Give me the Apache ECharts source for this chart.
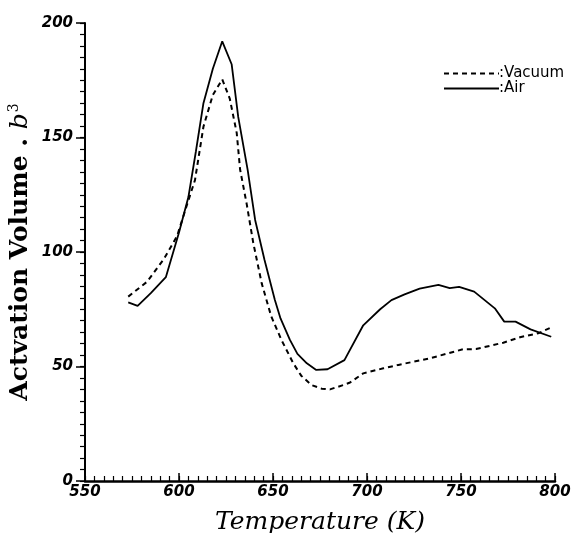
<!DOCTYPE html>
<html>
<head>
<meta charset="utf-8">
<script src="https://cdn.jsdelivr.net/npm/echarts@6/dist/echarts.min.js"></script>
<style>html,body{margin:0;padding:0;background:#fff}#c{width:572px;height:533px}</style>
</head>
<body>
<div id="c"></div>
<script>
const airT = [573,578,585,593,600,605,609,613,618,623,628,631.5,636.5,640.5,645.5,651,654,659,663,668,673,679,688,698,707,713,720,728,738,744,749,757,768,773,779,787,798];
const airV = [78,76.5,82,89,108.5,124,144,165,180,192,182,159,136,114,96.5,79,71,61.6,55.5,51.4,48.5,48.8,52.8,68,75,79,81.5,84,85.6,84.2,84.8,82.7,75.4,69.6,69.6,66.2,63];
const vacT = [573,583,592,599,604,608.5,613,618,623,627,630.7,632.5,636,639.5,644,649,654.5,660.8,665,670.5,676,680.3,687.4,691,698,708.7,716.7,733.5,751,758,772.5,781.4,791,798.2];
const vacV = [80.5,87,97,107,120,131.4,154.7,168.6,175.4,167,152,136,121,104,86.3,72,61.6,51.4,46,41.9,40.3,40,41.9,43,47,49.2,50.7,53.6,57.5,57.6,60.4,62.8,64.5,67.1];
const seriesNames = ['Vacuum','Air'];
const xTicks = [550,600,650,700,750,800];
const yTicks = [0,50,100,150,200];
const xMinorStep = 5;
const yMinorStep = 5;

const pair = (a,b) => a.map((t,i)=>[t,b[i]]);
const chart = echarts.init(document.getElementById('c'));
const tickFont = {color:'#000', fontFamily:'DejaVu Sans', fontWeight:'bold', fontStyle:'italic', fontSize:15};
const xMin = xTicks[0], xMax = xTicks[xTicks.length-1];
const yMin = yTicks[0], yMax = yTicks[yTicks.length-1];
chart.setOption({
  animation:false,
  backgroundColor:'#fff',
  grid:{left:85, right:17, top:23, bottom:52, containLabel:false, outerBoundsMode:'none'},
  legend:{
    left:438, top:61, orient:'vertical', itemWidth:55, itemHeight:8, itemGap:0,
    data:seriesNames,
    formatter: n => ':' + n,
    itemStyle:{color:'rgba(0,0,0,0)', borderWidth:0, opacity:0},
    textStyle:{color:'#000', fontFamily:'DejaVu Sans', fontSize:15, padding:[0,0,0,-5]}
  },
  xAxis:[{
    type:'value', min:xMin, max:xMax, interval:xTicks[1]-xTicks[0], position:'bottom',
    axisLine:{lineStyle:{color:'#000', width:2.5}},
    axisTick:{inside:true, length:8, lineStyle:{color:'#000', width:1.5}},
    splitLine:{show:false},
    axisLabel:Object.assign({margin:4}, tickFont),
    name:'Temperature (K)', nameLocation:'middle', nameGap:29, nameMoveOverlap:false,
    nameTextStyle:{color:'#000', fontFamily:'DejaVu Serif', fontStyle:'italic', fontSize:25}
  },{
    type:'value', min:xMin, max:xMax, interval:xMinorStep, position:'bottom', gridIndex:0,
    axisLine:{show:false},
    axisTick:{inside:true, length:5, lineStyle:{color:'#000', width:1.2}},
    axisLabel:{show:false}, splitLine:{show:false}
  }],
  yAxis:[{
    type:'value', min:yMin, max:yMax, interval:yTicks[1]-yTicks[0], position:'left',
    axisLine:{show:true, lineStyle:{color:'#000', width:2}},
    axisTick:{inside:false, length:9, lineStyle:{color:'#000', width:1.5}},
    splitLine:{show:false},
    axisLabel:Object.assign({margin:12}, tickFont),
    name:'{a|Actvation Volume . }{b|b}{c|3}', nameLocation:'middle', nameRotate:90, nameGap:52, nameMoveOverlap:false,
    nameTextStyle:{
      rich:{
        a:{color:'#000', fontFamily:'DejaVu Serif', fontWeight:'bold', fontSize:25, lineHeight:26},
        b:{color:'#000', fontFamily:'DejaVu Serif', fontStyle:'italic', fontSize:25, lineHeight:26},
        c:{color:'#000', fontFamily:'DejaVu Serif', fontSize:14, lineHeight:26, verticalAlign:'top', padding:[0,0,0,1]}
      }
    }
  },{
    type:'value', min:yMin, max:yMax, interval:yMinorStep, position:'left', gridIndex:0,
    axisLine:{show:false},
    axisTick:{inside:false, length:5, lineStyle:{color:'#000', width:1.2}},
    axisLabel:{show:false}, splitLine:{show:false}
  }],
  series:[
    {name:seriesNames[0], type:'line', data:pair(vacT,vacV), symbol:'none', smooth:false,
     lineStyle:{color:'#000', width:2, type:[5,4]}, itemStyle:{color:'#000'}},
    {name:seriesNames[1], type:'line', data:pair(airT,airV), symbol:'none', smooth:false,
     lineStyle:{color:'#000', width:1.8, type:'solid'}, itemStyle:{color:'#000'}}
  ]
});
</script>
</body>
</html>
